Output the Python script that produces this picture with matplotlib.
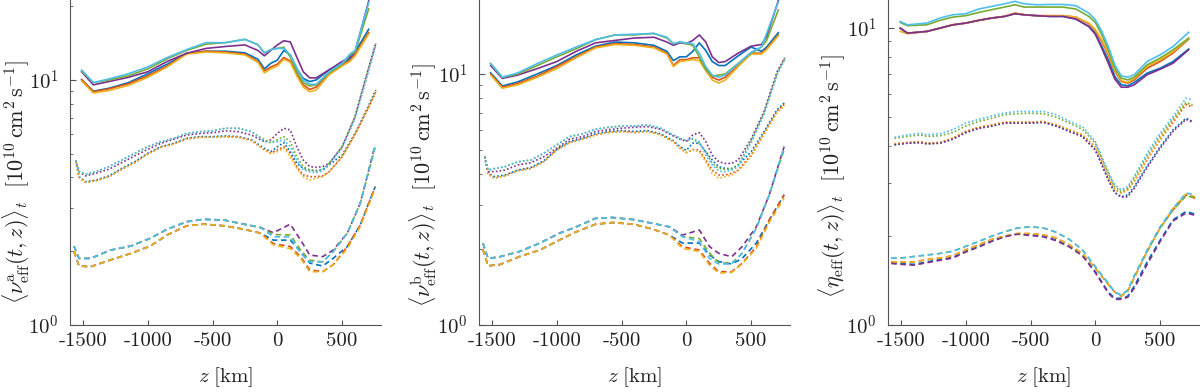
import matplotlib
matplotlib.use("Agg")
import matplotlib.pyplot as plt
from matplotlib.ticker import LogLocator, FixedLocator, NullFormatter

plt.rcParams['font.family'] = 'serif'
plt.rcParams['font.serif'] = ['cmr10', 'DejaVu Serif']
plt.rcParams['mathtext.fontset'] = 'cm'
plt.rcParams['axes.unicode_minus'] = False
plt.rcParams['axes.formatter.use_mathtext'] = True

# MATLAB default colour order: blue, orange, yellow, purple, green, cyan
colors = ['#0072BD', '#D95319', '#EDB120', '#7E2F8E', '#77AC30', '#4DBEEE']

# ---------------- panel a (nu^a) ----------------
a_solid_z = [-1510, -1420, -1300, -1150, -1000, -850, -700, -550, -400, -250, -150, -100, -50,
             0, 50, 100, 150, 200, 250, 300, 400, 500, 560, 600, 705]
a_solid = [
    [10.0, 9.0, 9.25, 9.75, 10.6, 11.6, 12.85, 13.1, 13.1, 12.9, 12.15, 11.1, 11.7, 12.05, 13.2, 12.65, 11.1, 10.15, 9.85, 10.0, 11.0, 11.7, 12.2, 13.0, 16.1],
    [10.05, 8.95, 9.2, 9.65, 10.4, 11.4, 12.85, 13.1, 13.0, 12.75, 11.9, 10.9, 11.3, 11.6, 12.35, 11.95, 10.6, 9.55, 9.15, 9.35, 10.65, 11.5, 12.0, 12.7, 15.6],
    [9.9, 8.85, 9.05, 9.5, 10.25, 11.3, 12.75, 13.0, 12.9, 12.65, 11.8, 10.7, 11.1, 11.4, 12.15, 11.8, 10.4, 9.35, 8.95, 9.1, 10.5, 11.4, 11.9, 12.55, 15.4],
    [10.8, 9.55, 9.85, 10.25, 10.8, 11.9, 12.85, 13.45, 13.7, 13.9, 13.2, 12.55, 13.2, 13.9, 14.45, 14.3, 12.4, 10.8, 10.2, 10.2, 11.0, 11.9, 12.4, 13.0, 21.0],
    [10.88, 9.75, 10.0, 10.4, 11.1, 12.2, 13.2, 14.0, 14.2, 14.65, 13.95, 12.9, 13.3, 13.45, 13.6, 12.4, 10.8, 9.75, 9.45, 9.55, 10.7, 11.6, 12.65, 13.0, 19.5],
    [10.98, 9.75, 10.1, 10.6, 11.3, 12.35, 13.3, 14.2, 14.2, 14.65, 13.9, 12.9, 13.3, 13.45, 13.45, 12.65, 11.2, 10.0, 9.6, 9.6, 10.8, 11.7, 12.75, 13.2, 20.7],
]
a_dot_z = [-1555, -1530, -1480, -1400, -1300, -1200, -1100, -1000, -900, -800, -700, -600, -500, -400,
           -300, -200, -100, -50, 0, 50, 100, 150, 200, 250, 300, 350, 400, 500, 600, 700, 760]
a_dot = [
    [4.64, 4.03, 3.85, 3.9, 4.06, 4.36, 4.64, 5.02, 5.34, 5.51, 5.78, 5.87, 5.87, 5.91, 5.87, 5.7, 5.26, 5.1, 5.34, 5.55, 5.1, 4.57, 4.36, 4.29, 4.26, 4.32, 4.5, 4.94, 6.05, 7.78, 9.1],
    [4.64, 4.0, 3.82, 3.88, 4.03, 4.32, 4.6, 4.99, 5.31, 5.48, 5.75, 5.84, 5.84, 5.87, 5.84, 5.66, 5.18, 5.05, 5.18, 5.34, 5.02, 4.43, 4.1, 4.03, 4.03, 4.06, 4.22, 4.86, 6.0, 7.65, 8.95],
    [4.64, 4.0, 3.82, 3.88, 4.03, 4.32, 4.6, 4.99, 5.31, 5.48, 5.75, 5.84, 5.84, 5.87, 5.84, 5.66, 5.18, 5.0, 5.1, 5.26, 4.86, 4.36, 4.03, 3.9, 3.97, 4.03, 4.22, 4.86, 6.0, 7.65, 8.95],
    [4.71, 4.22, 4.06, 4.16, 4.32, 4.6, 4.9, 5.21, 5.51, 5.73, 5.96, 6.05, 6.09, 6.2, 6.15, 5.96, 5.6, 5.7, 6.05, 6.35, 6.25, 5.34, 4.71, 4.43, 4.4, 4.43, 4.57, 5.34, 7.1, 11.0, 14.1],
    [4.71, 4.22, 4.13, 4.22, 4.43, 4.71, 5.02, 5.34, 5.6, 5.78, 6.05, 6.15, 6.2, 6.35, 6.35, 6.15, 5.7, 5.55, 5.7, 5.87, 5.6, 4.86, 4.43, 4.29, 4.26, 4.29, 4.57, 5.34, 7.1, 11.0, 14.1],
    [4.71, 4.22, 4.13, 4.22, 4.43, 4.71, 5.02, 5.34, 5.6, 5.78, 6.05, 6.15, 6.2, 6.35, 6.35, 6.15, 5.6, 5.55, 5.6, 5.7, 5.34, 4.71, 4.29, 4.22, 4.18, 4.26, 4.5, 5.26, 6.95, 10.6, 13.8],
]
a_dash_z = [-1570, -1530, -1440, -1290, -1130, -980, -850, -700, -570, -410, -260, -130, -30,
            100, 180, 250, 350, 430, 540, 640, 755]
a_dash = [
    [2.0, 1.74, 1.73, 1.84, 1.96, 2.10, 2.33, 2.54, 2.58, 2.54, 2.46, 2.37, 2.22, 2.22, 1.99, 1.79, 1.74, 1.87, 2.09, 2.56, 3.67],
    [2.0, 1.74, 1.73, 1.84, 1.96, 2.10, 2.33, 2.54, 2.58, 2.54, 2.46, 2.37, 2.15, 2.09, 1.90, 1.68, 1.65, 1.76, 2.09, 2.56, 3.67],
    [2.0, 1.74, 1.73, 1.84, 1.96, 2.10, 2.33, 2.54, 2.58, 2.54, 2.46, 2.37, 2.12, 2.05, 1.87, 1.65, 1.65, 1.76, 2.05, 2.52, 3.6],
    [2.1, 1.87, 1.87, 2.02, 2.10, 2.26, 2.46, 2.64, 2.70, 2.68, 2.58, 2.50, 2.38, 2.58, 2.22, 1.93, 1.90, 2.02, 2.37, 3.14, 5.43],
    [2.1, 1.87, 1.87, 2.02, 2.10, 2.26, 2.46, 2.64, 2.70, 2.68, 2.58, 2.50, 2.34, 2.33, 2.02, 1.84, 1.81, 1.99, 2.37, 3.14, 5.3],
    [2.1, 1.87, 1.87, 2.02, 2.10, 2.26, 2.46, 2.64, 2.70, 2.68, 2.58, 2.50, 2.29, 2.29, 1.96, 1.81, 1.81, 1.99, 2.37, 3.14, 5.43],
]

# ---------------- panel b (nu^b) ----------------
b_solid_z = [-1510, -1420, -1300, -1150, -1000, -850, -700, -550, -400, -250, -150, -100, -50,
             0, 50, 100, 150, 200, 250, 300, 400, 500, 580, 620, 710]
b_solid = [
    [10.1, 8.95, 9.3, 10.0, 10.8, 11.9, 12.9, 13.4, 13.3, 13.0, 12.3, 11.3, 11.7, 11.7, 12.3, 13.3, 12.4, 11.2, 10.8, 10.8, 11.8, 12.8, 12.3, 12.8, 14.6],
    [10.0, 8.85, 9.17, 9.8, 10.7, 11.7, 12.8, 13.2, 13.1, 12.8, 12.1, 10.8, 11.4, 11.4, 11.6, 11.6, 10.5, 9.7, 9.45, 9.7, 10.8, 12.1, 12.1, 12.6, 14.3],
    [9.9, 8.77, 9.05, 9.7, 10.5, 11.6, 12.7, 13.1, 13.0, 12.7, 12.0, 10.7, 11.2, 11.3, 11.4, 11.3, 10.3, 9.45, 9.2, 9.45, 10.7, 12.0, 12.0, 12.5, 14.2],
    [10.8, 9.6, 9.9, 10.5, 11.2, 12.3, 13.3, 13.6, 13.9, 14.0, 13.4, 13.0, 13.3, 13.2, 13.6, 14.3, 13.4, 11.7, 11.1, 11.2, 12.1, 12.9, 13.1, 14.1, 19.6],
    [11.0, 9.7, 10.0, 10.8, 11.7, 12.6, 13.7, 14.3, 14.3, 14.5, 13.9, 13.2, 13.4, 13.2, 13.0, 11.7, 10.4, 9.8, 9.9, 10.0, 11.0, 12.1, 12.8, 13.6, 18.0],
    [11.0, 9.7, 10.1, 11.0, 11.9, 12.8, 13.7, 14.3, 14.4, 14.5, 14.0, 13.2, 13.4, 13.3, 13.2, 12.1, 10.7, 9.9, 9.7, 9.9, 11.0, 12.2, 12.8, 14.5, 19.4],
]
b_dot_z = a_dot_z
b_dot = [
    [4.68, 4.02, 3.9, 3.96, 4.14, 4.24, 4.51, 5.0, 5.38, 5.54, 5.78, 5.9, 5.95, 5.9, 5.95, 5.78, 5.42, 5.14, 4.96, 5.3, 5.3, 4.9, 4.54, 4.27, 4.2, 4.2, 4.34, 4.9, 5.9, 7.2, 7.7],
    [4.68, 3.99, 3.84, 3.93, 4.12, 4.2, 4.47, 4.98, 5.33, 5.5, 5.72, 5.84, 5.9, 5.84, 5.9, 5.72, 5.38, 5.06, 4.86, 5.0, 4.98, 4.54, 4.14, 3.96, 3.96, 4.02, 4.14, 4.75, 5.8, 7.1, 7.6],
    [4.68, 3.99, 3.84, 3.93, 4.12, 4.2, 4.47, 4.98, 5.33, 5.5, 5.72, 5.84, 5.9, 5.84, 5.9, 5.72, 5.38, 5.06, 4.86, 5.0, 4.9, 4.47, 4.02, 3.84, 3.9, 3.96, 4.1, 4.7, 5.75, 7.0, 7.5],
    [4.68, 4.08, 4.08, 4.14, 4.34, 4.43, 4.68, 5.06, 5.5, 5.63, 5.9, 6.0, 6.08, 6.13, 6.17, 6.02, 5.66, 5.5, 5.38, 5.72, 5.84, 5.38, 4.75, 4.47, 4.4, 4.4, 4.54, 5.5, 7.1, 10.2, 11.6],
    [4.68, 4.14, 4.2, 4.27, 4.47, 4.54, 4.83, 5.22, 5.63, 5.78, 6.02, 6.13, 6.2, 6.2, 6.27, 6.08, 5.72, 5.54, 5.42, 5.5, 5.3, 4.9, 4.4, 4.2, 4.16, 4.2, 4.34, 5.4, 7.0, 10.0, 11.6],
    [4.68, 4.14, 4.2, 4.27, 4.47, 4.54, 4.83, 5.22, 5.63, 5.78, 6.02, 6.13, 6.2, 6.2, 6.27, 6.08, 5.72, 5.54, 5.42, 5.54, 5.38, 4.75, 4.34, 4.1, 4.08, 4.14, 4.27, 5.3, 6.9, 9.9, 11.4],
]
b_dash_z = a_dash_z
b_dash = [
    [2.0, 1.72, 1.74, 1.87, 1.99, 2.18, 2.35, 2.52, 2.56, 2.52, 2.41, 2.28, 2.12, 2.12, 1.9, 1.79, 1.75, 1.84, 2.12, 2.62, 3.3],
    [2.0, 1.72, 1.74, 1.87, 1.99, 2.18, 2.35, 2.52, 2.56, 2.52, 2.41, 2.28, 2.05, 1.99, 1.76, 1.63, 1.63, 1.76, 2.05, 2.62, 3.3],
    [2.0, 1.72, 1.74, 1.87, 1.99, 2.18, 2.35, 2.52, 2.56, 2.52, 2.41, 2.28, 2.02, 1.96, 1.73, 1.61, 1.62, 1.75, 2.02, 2.56, 3.2],
    [2.12, 1.84, 1.87, 1.96, 2.12, 2.32, 2.46, 2.66, 2.68, 2.63, 2.54, 2.46, 2.28, 2.39, 2.05, 1.93, 1.87, 2.05, 2.46, 3.3, 5.14],
    [2.12, 1.84, 1.87, 1.96, 2.12, 2.32, 2.46, 2.66, 2.68, 2.63, 2.54, 2.46, 2.25, 2.21, 1.93, 1.77, 1.76, 1.93, 2.43, 3.3, 5.0],
    [2.12, 1.84, 1.87, 1.96, 2.12, 2.32, 2.46, 2.66, 2.68, 2.63, 2.54, 2.46, 2.25, 2.15, 1.84, 1.75, 1.75, 1.93, 2.43, 3.3, 5.14],
]

# ---------------- panel c (eta) ----------------
c_solid_z = [-1505, -1450, -1300, -1200, -1100, -1000, -900, -800, -700, -620, -550, -450, -350, -250,
             -150, -50, 0, 50, 100, 150, 200, 250, 300, 400, 500, 600, 720]
c_solid = [
    [9.97, 9.59, 9.72, 9.97, 10.23, 10.37, 10.59, 10.78, 10.92, 11.15, 11.06, 10.98, 10.92, 10.92, 10.7, 10.1, 9.59, 8.65, 7.8, 6.86, 6.43, 6.38, 6.55, 7.04, 7.31, 7.7, 8.48],
    [9.97, 9.59, 9.72, 9.97, 10.23, 10.37, 10.59, 10.78, 10.92, 11.2, 11.06, 10.98, 10.98, 10.98, 10.86, 10.32, 9.8, 8.99, 8.11, 7.13, 6.6, 6.51, 6.68, 7.31, 7.7, 8.22, 9.15],
    [9.72, 9.55, 9.72, 9.97, 10.23, 10.37, 10.59, 10.78, 10.92, 11.2, 11.06, 10.98, 10.98, 10.98, 10.86, 10.37, 9.85, 9.1, 8.2, 7.2, 6.64, 6.55, 6.75, 7.41, 7.8, 8.3, 9.2],
    [9.97, 9.59, 9.72, 9.97, 10.23, 10.37, 10.59, 10.78, 10.92, 11.15, 11.06, 10.98, 10.92, 10.92, 10.7, 10.1, 9.5, 8.54, 7.6, 6.72, 6.31, 6.31, 6.43, 6.95, 7.25, 7.6, 8.43],
    [10.42, 10.16, 10.23, 10.59, 10.86, 10.98, 11.26, 11.5, 11.74, 11.95, 11.74, 11.74, 11.74, 11.74, 11.56, 10.92, 10.42, 9.47, 8.43, 7.31, 6.77, 6.68, 6.82, 7.51, 7.91, 8.43, 9.23],
    [10.5, 10.23, 10.37, 10.78, 11.06, 11.15, 11.56, 11.8, 12.04, 12.27, 12.04, 11.95, 11.98, 11.98, 11.86, 11.2, 10.64, 9.72, 8.65, 7.51, 6.89, 6.82, 6.95, 7.7, 8.11, 8.65, 9.65],
]
c_dot_z = [-1550, -1450, -1350, -1300, -1200, -1100, -1000, -900, -800, -700, -600, -500, -400, -300,
           -200, -100, 0, 50, 100, 150, 200, 250, 300, 400, 500, 600, 700, 750]
c_dot = [
    [4.04, 4.09, 4.11, 4.07, 4.09, 4.22, 4.44, 4.59, 4.67, 4.78, 4.78, 4.78, 4.81, 4.67, 4.48, 4.31, 3.88, 3.46, 3.08, 2.79, 2.7, 2.74, 2.92, 3.43, 3.98, 4.54, 4.96, 4.84],
    [4.07, 4.11, 4.14, 4.09, 4.11, 4.25, 4.48, 4.63, 4.71, 4.81, 4.81, 4.81, 4.84, 4.71, 4.54, 4.36, 3.98, 3.55, 3.16, 2.86, 2.78, 2.85, 3.04, 3.59, 4.2, 4.81, 5.51, 5.41],
    [4.07, 4.11, 4.14, 4.09, 4.11, 4.25, 4.48, 4.63, 4.71, 4.81, 4.81, 4.81, 4.84, 4.71, 4.54, 4.36, 3.98, 3.55, 3.16, 2.86, 2.78, 2.85, 3.04, 3.62, 4.25, 4.88, 5.58, 5.46],
    [4.04, 4.09, 4.11, 4.07, 4.09, 4.22, 4.44, 4.59, 4.67, 4.78, 4.78, 4.78, 4.81, 4.67, 4.48, 4.31, 3.88, 3.46, 3.08, 2.79, 2.69, 2.7, 2.88, 3.39, 3.93, 4.48, 4.92, 4.81],
    [4.25, 4.31, 4.36, 4.31, 4.33, 4.44, 4.67, 4.84, 4.96, 5.1, 5.14, 5.16, 5.14, 5.0, 4.78, 4.56, 4.09, 3.64, 3.24, 2.92, 2.81, 2.88, 3.12, 3.7, 4.33, 4.93, 5.61, 5.51],
    [4.28, 4.36, 4.42, 4.36, 4.4, 4.54, 4.78, 4.92, 5.05, 5.17, 5.23, 5.23, 5.23, 5.1, 4.84, 4.65, 4.14, 3.69, 3.28, 2.96, 2.85, 2.92, 3.16, 3.78, 4.42, 5.03, 5.8, 5.72],
]
c_dash_z = [-1575, -1500, -1400, -1300, -1200, -1100, -1000, -900, -800, -700, -600, -500, -400, -300,
            -200, -100, 0, 100, 150, 200, 250, 300, 400, 500, 600, 700, 770]
c_dash = [
    [1.62, 1.61, 1.60, 1.63, 1.66, 1.69, 1.77, 1.84, 1.92, 1.99, 2.03, 2.01, 1.99, 1.93, 1.84, 1.72, 1.51, 1.29, 1.23, 1.23, 1.25, 1.35, 1.63, 1.93, 2.26, 2.41, 2.36],
    [1.63, 1.63, 1.63, 1.66, 1.68, 1.71, 1.79, 1.86, 1.94, 1.99, 2.03, 2.03, 2.01, 1.96, 1.86, 1.74, 1.55, 1.37, 1.29, 1.25, 1.30, 1.44, 1.77, 2.12, 2.44, 2.74, 2.67],
    [1.63, 1.63, 1.63, 1.66, 1.68, 1.71, 1.79, 1.86, 1.94, 1.99, 2.03, 2.03, 2.01, 1.96, 1.86, 1.74, 1.55, 1.37, 1.29, 1.25, 1.30, 1.44, 1.77, 2.12, 2.47, 2.76, 2.70],
    [1.61, 1.60, 1.59, 1.62, 1.65, 1.68, 1.76, 1.83, 1.91, 1.98, 2.02, 2.00, 1.98, 1.92, 1.83, 1.71, 1.50, 1.28, 1.22, 1.22, 1.24, 1.33, 1.60, 1.91, 2.24, 2.38, 2.34],
    [1.68, 1.68, 1.70, 1.72, 1.74, 1.77, 1.84, 1.91, 1.99, 2.06, 2.12, 2.14, 2.12, 2.05, 1.94, 1.79, 1.57, 1.38, 1.29, 1.26, 1.31, 1.46, 1.77, 2.12, 2.44, 2.72, 2.68],
    [1.68, 1.68, 1.70, 1.72, 1.74, 1.77, 1.84, 1.91, 1.99, 2.06, 2.12, 2.14, 2.12, 2.05, 1.94, 1.79, 1.57, 1.38, 1.29, 1.26, 1.31, 1.46, 1.79, 2.14, 2.47, 2.78, 2.74],
]

xticks = [-1500, -1000, -500, 0, 500]
xticklabels = ['-1500', '-1000', '-500', '0', '500']
ylabels = [r'$\langle \nu^{\mathrm{a}}_{\mathrm{eff}}(t,z)\rangle_t\ \ [10^{10}\,\mathrm{cm}^2\,\mathrm{s}^{-1}]$',
           r'$\langle \nu^{\mathrm{b}}_{\mathrm{eff}}(t,z)\rangle_t\ \ [10^{10}\,\mathrm{cm}^2\,\mathrm{s}^{-1}]$',
           r'$\langle \eta_{\mathrm{eff}}(t,z)\rangle_t\ \ [10^{10}\,\mathrm{cm}^2\,\mathrm{s}^{-1}]$']
ytops = [21.2, 19.7, 12.4]

panels = [
    (a_solid_z, a_solid, a_dot_z, a_dot, a_dash_z, a_dash),
    (b_solid_z, b_solid, b_dot_z, b_dot, b_dash_z, b_dash),
    (c_solid_z, c_solid, c_dot_z, c_dot, c_dash_z, c_dash),
]
lefts = [70, 479, 888]
label_y = [0.44, 0.43, 0.46]
label_x = [-0.174, -0.18, -0.18]

fig = plt.figure(figsize=(12, 3.92), dpi=100)
spine_col = '#555555'

for i, (sz, s, dz, d, hz, h) in enumerate(panels):
    ax = fig.add_axes([lefts[i] / 1200, 1 - 325 / 392, 311 / 1200, 325 / 392])
    for k in range(6):
        ax.plot(sz, s[k], color=colors[k], lw=1.2, ls='-')
    for k in range(6):
        ax.plot(dz, d[k], color=colors[k], lw=1.2, ls=(0, (1, 1.3)))
    for k in range(6):
        ax.plot(hz, h[k], color=colors[k], lw=1.2, ls=(0, (3.3, 2.2)))

    ax.set_yscale('log')
    ax.set_xlim(-1600, 800)
    ax.set_ylim(1, ytops[i])
    ax.yaxis.set_major_locator(FixedLocator([1, 10]))
    ax.yaxis.set_minor_locator(LogLocator(base=10, subs=range(2, 10)))
    ax.yaxis.set_minor_formatter(NullFormatter())
    ax.set_yticks([1, 10])
    ax.set_yticklabels([r'$10^0$', r'$10^1$'])
    ax.set_xticks(xticks)
    ax.set_xticklabels(xticklabels)

    for sp in ['top', 'right']:
        ax.spines[sp].set_visible(False)
    for sp in ['left', 'bottom']:
        ax.spines[sp].set_color(spine_col)
        ax.spines[sp].set_linewidth(0.8)
    ax.tick_params(which='both', direction='in', colors=spine_col, labelcolor='#222222',
                   labelsize=15)
    ax.tick_params(axis='x', which='major', length=3.5, pad=5)
    ax.tick_params(axis='y', which='major', length=4, pad=8)
    ax.tick_params(axis='y', which='minor', length=2.5)

    ax.set_ylabel(ylabels[i], fontsize=16, color='#222222', va='center')
    ax.yaxis.set_label_coords(label_x[i], label_y[i])
    ax.set_xlabel(r'$z\ [\mathrm{km}]$', fontsize=15, color='#222222', va='center')
    ax.xaxis.set_label_coords(0.5, -0.16)

fig.savefig('out.png', dpi=100)
